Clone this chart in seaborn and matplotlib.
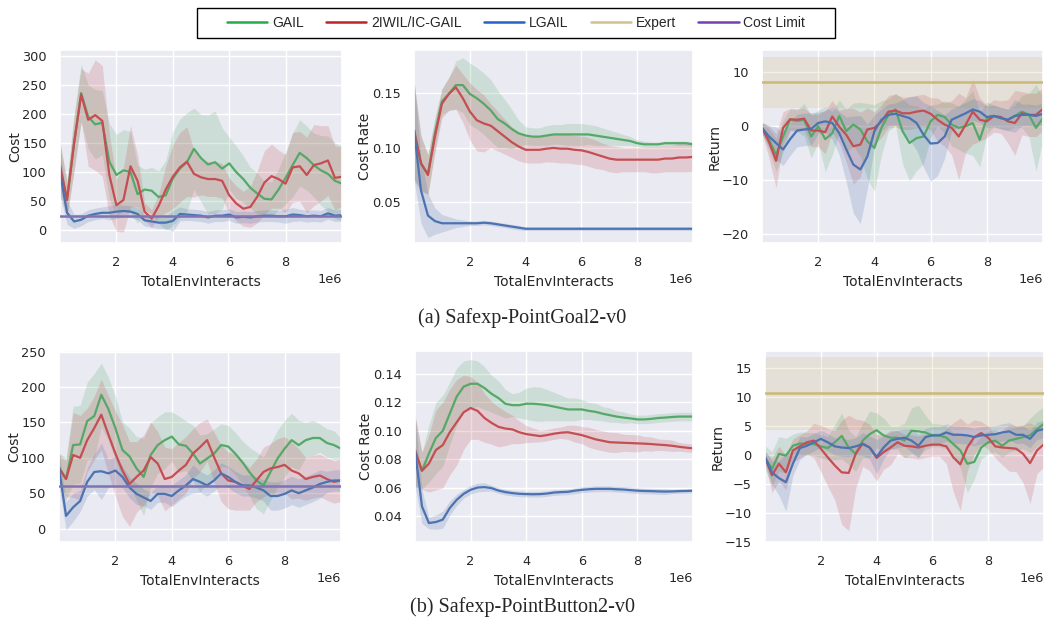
import numpy as np
import pandas as pd
import matplotlib
matplotlib.use("Agg")
import matplotlib.pyplot as plt
import seaborn as sns
from matplotlib.lines import Line2D
from matplotlib.patches import Rectangle

#%% data (x in env interacts, 0.25e6 apart)
steps = np.arange(41) * 0.25e6
algos = ["GAIL", "2IWIL/IC-GAIL", "LGAIL"]

# (a) Safexp-PointGoal2-v0 -- cost
goal_cost_gail = [105, 55, 150, 236, 195, 182, 185, 118, 95, 103, 100, 62, 70, 68, 57, 60, 89, 106, 117, 140, 124,
                  113, 117, 106, 115, 100, 88, 73, 63, 54, 53, 70, 90, 112, 133, 124, 112, 103, 97, 85, 80]
goal_cost_gail_sd = [45, 30, 50, 50, 55, 60, 55, 65, 70, 70, 70, 50, 35, 40, 45, 60, 80, 85, 85, 70, 75,
                     85, 88, 70, 45, 45, 40, 35, 35, 30, 30, 35, 45, 55, 57, 55, 55, 60, 65, 65, 65]
goal_cost_2iwil = [112, 52, 150, 233, 190, 198, 188, 95, 43, 52, 110, 85, 32, 20, 42, 70, 92, 108, 118, 97, 91,
                   88, 88, 85, 60, 46, 37, 40, 58, 82, 93, 88, 80, 108, 110, 95, 112, 115, 120, 90, 92]
goal_cost_2iwil_sd = [40, 30, 45, 45, 80, 95, 95, 70, 45, 55, 70, 45, 15, 15, 20, 40, 55, 60, 60, 40, 30,
                      30, 30, 30, 30, 30, 30, 35, 45, 55, 55, 50, 50, 60, 60, 65, 70, 65, 60, 55, 52]
goal_cost_lgail = [100, 30, 15, 18, 25, 28, 30, 30, 32, 33, 32, 28, 17, 15, 13, 13, 16, 28, 27, 26, 25,
                   22, 25, 25, 27, 22, 23, 22, 24, 25, 25, 24, 24, 27, 26, 24, 25, 24, 29, 25, 26]
goal_cost_lgail_sd = [40, 20, 12, 10, 10, 10, 10, 12, 12, 10, 10, 10, 10, 10, 10, 10, 18, 12, 10, 10, 10,
                      10, 10, 10, 10, 10, 10, 10, 10, 10, 10, 10, 12, 12, 10, 10, 10, 10, 10, 10, 10]
goal_cost_limit = 25

# (a) -- cost rate
goal_rate_gail = [0.116, 0.085, 0.076, 0.113, 0.142, 0.149, 0.157, 0.157, 0.149, 0.145, 0.140, 0.134, 0.126, 0.122,
                  0.117, 0.113, 0.111, 0.110, 0.110, 0.111, 0.112, 0.112, 0.112, 0.112, 0.112, 0.112, 0.111, 0.110,
                  0.109, 0.108, 0.107, 0.106, 0.104, 0.103, 0.103, 0.103, 0.104, 0.104, 0.104, 0.104, 0.103]
goal_rate_gail_sd = [0.045, 0.025, 0.018, 0.015, 0.012, 0.015, 0.022, 0.025, 0.028, 0.028, 0.028, 0.028, 0.026,
                     0.022, 0.018, 0.012, 0.008, 0.008, 0.008, 0.009, 0.009, 0.009, 0.010, 0.010, 0.010, 0.009,
                     0.009, 0.008, 0.007, 0.006, 0.005, 0.004, 0.003, 0.003, 0.002, 0.002, 0.002, 0.002, 0.002,
                     0.002, 0.002]
goal_rate_2iwil = [0.116, 0.086, 0.075, 0.110, 0.140, 0.149, 0.155, 0.145, 0.133, 0.125, 0.122, 0.120, 0.115,
                   0.110, 0.105, 0.101, 0.098, 0.098, 0.098, 0.099, 0.0997, 0.099, 0.099, 0.098, 0.0975, 0.096,
                   0.094, 0.092, 0.090, 0.089, 0.089, 0.089, 0.089, 0.089, 0.089, 0.089, 0.090, 0.090, 0.091,
                   0.091, 0.0915]
goal_rate_2iwil_sd = [0.045, 0.025, 0.018, 0.015, 0.013, 0.015, 0.020, 0.022, 0.026, 0.028, 0.026, 0.020, 0.018,
                      0.016, 0.014, 0.013, 0.012, 0.012, 0.012, 0.012, 0.013, 0.013, 0.013, 0.013, 0.013, 0.013,
                      0.013, 0.012, 0.012, 0.012, 0.011, 0.011, 0.011, 0.011, 0.012, 0.012, 0.012, 0.012, 0.013,
                      0.013, 0.013]
goal_rate_lgail = [0.116, 0.061, 0.038, 0.033, 0.031, 0.031, 0.031, 0.031, 0.031, 0.031, 0.0315, 0.031, 0.030,
                   0.029, 0.028, 0.027, 0.026, 0.026, 0.026, 0.026, 0.026, 0.026, 0.026, 0.026, 0.026, 0.026,
                   0.026, 0.026, 0.026, 0.026, 0.026, 0.026, 0.026, 0.026, 0.026, 0.026, 0.026, 0.026, 0.026,
                   0.026, 0.026]
goal_rate_lgail_sd = [0.045, 0.030, 0.020, 0.012, 0.008, 0.006, 0.004, 0.003, 0.002, 0.002, 0.002, 0.002, 0.002,
                      0.002, 0.002, 0.002, 0.0015, 0.0015, 0.0015, 0.0015, 0.0015, 0.0015, 0.0015, 0.0015, 0.0015,
                      0.0015, 0.0015, 0.0015, 0.0015, 0.0015, 0.0015, 0.0015, 0.0015, 0.0015, 0.0015, 0.0015,
                      0.0015, 0.0015, 0.0015, 0.0015, 0.0015]

# (a) -- return
goal_ret_gail = [-0.4, -2.6, -5.4, -2.0, 1.1, 0.9, 1.1, -2.0, -0.1, -2.5, -1.4, 1.8, -1.0, 0.2, -0.7, -2.9, -4.1,
                 -0.4, 2.0, 3.0, -1.0, -3.2, -2.3, -2.0, 0.8, 2.0, 1.6, 0.2, -0.4, -0.1, 0.5, -2.6, 1.4, 1.8, 1.4,
                 1.1, 1.8, 2.6, 2.0, -0.4, 1.4]
goal_ret_gail_sd = [1, 2, 3, 3, 2, 2, 3, 4, 3, 6, 4, 3, 4, 4, 5, 7, 8, 5, 3, 3, 6,
                    7, 6, 5, 3, 2, 3, 4, 4, 5, 6, 5, 3, 2, 2, 2, 2, 3, 4, 8, 4]
goal_ret_2iwil = [-0.4, -3.0, -6.5, -0.4, 1.2, 1.1, 1.3, -0.9, -0.9, -1.2, 1.7, -0.2, -1.7, -3.8, -3.5, -0.7, -0.4,
                  0.8, 2.6, 2.8, 2.3, 2.3, 2.6, 2.8, 2.2, 1.1, 0.2, -0.4, -2.0, 0.2, 2.6, 1.1, 0.8, 1.8, 1.6, 0.8,
                  0.5, 2.3, 2.0, 2.0, 3.1]
goal_ret_2iwil_sd = [1, 3, 5, 3, 2, 2, 2, 3, 3, 4, 3, 3, 5, 7, 6, 4, 3, 3, 3, 3, 3,
                     3, 3, 3, 3, 4, 4, 5, 8, 5, 6, 4, 3, 3, 3, 4, 6, 4, 4, 4, 4]
goal_ret_lgail = [-0.4, -2.0, -3.2, -4.4, -2.5, -0.9, -0.7, -0.6, 0.5, 0.8, 0.5, -1.4, -4.4, -7.2, -8.1, -5.7,
                  -1.0, 1.1, 2.0, 2.2, 1.8, 1.4, 0.5, -1.7, -3.3, -3.2, -2.0, 1.1, 1.7, 2.3, 3.0, 2.6, 1.6, 1.8,
                  1.4, 1.1, 1.8, 2.0, 2.0, 1.8, 2.2]
goal_ret_lgail_sd = [1, 2, 3, 3, 3, 3, 3, 3, 2, 2, 3, 4, 6, 9, 10, 6, 3, 2, 2, 2, 3,
                     4, 5, 6, 7, 6, 4, 2, 2, 2, 2, 2, 2, 2, 2, 2, 3, 2, 2, 2, 2]
goal_expert = 8.0
goal_expert_sd = 4.7

# (b) Safexp-PointButton2-v0 -- cost
button_cost_gail = [87, 70, 118, 119, 152, 159, 189, 169, 142, 111, 102, 85, 73, 104, 118, 125, 130, 119, 117, 106,
                    92, 99, 106, 118, 116, 106, 94, 80, 68, 61, 80, 99, 113, 125, 118, 125, 128, 128, 121, 118, 113]
button_cost_gail_sd = [20, 30, 55, 55, 55, 60, 45, 45, 45, 40, 40, 45, 55, 45, 40, 40, 35, 40, 35, 40, 40,
                       35, 35, 30, 30, 30, 30, 35, 40, 40, 40, 40, 40, 38, 35, 25, 25, 20, 20, 20, 15]
button_cost_2iwil = [85, 70, 104, 100, 125, 142, 161, 133, 106, 82, 63, 73, 82, 101, 92, 70, 73, 82, 90, 106,
                     115, 125, 101, 78, 68, 66, 61, 56, 68, 80, 85, 87, 90, 82, 78, 70, 73, 75, 70, 66, 68]
button_cost_2iwil_sd = [20, 25, 60, 60, 45, 45, 50, 55, 60, 65, 60, 50, 50, 50, 45, 45, 40, 40, 40, 35, 35,
                        30, 35, 40, 40, 40, 35, 30, 30, 35, 35, 40, 40, 40, 35, 30, 30, 30, 30, 30, 30]
button_cost_lgail = [85, 18, 30, 39, 66, 80, 81, 78, 82, 73, 58, 49, 44, 39, 49, 49, 46, 54, 61, 70, 66,
                     61, 68, 78, 73, 66, 61, 61, 58, 54, 46, 46, 49, 54, 50, 54, 58, 63, 66, 68, 68]
button_cost_lgail_sd = [25, 20, 20, 15, 20, 25, 40, 20, 20, 15, 15, 15, 12, 12, 12, 12, 15, 15, 15, 20, 15,
                        15, 15, 15, 15, 15, 15, 15, 15, 15, 20, 20, 20, 20, 20, 20, 20, 20, 15, 15, 15]
button_cost_limit = 60

# (b) -- cost rate
button_rate_gail = [0.085, 0.072, 0.084, 0.095, 0.100, 0.112, 0.124, 0.131, 0.133, 0.133, 0.130, 0.126, 0.123,
                    0.119, 0.118, 0.118, 0.119, 0.119, 0.1186, 0.118, 0.117, 0.116, 0.115, 0.115, 0.115, 0.114,
                    0.1133, 0.112, 0.111, 0.110, 0.1093, 0.1087, 0.108, 0.108, 0.1084, 0.109, 0.1093, 0.1097,
                    0.110, 0.110, 0.110]
button_rate_gail_sd = [0.025, 0.013, 0.020, 0.025, 0.025, 0.022, 0.020, 0.018, 0.017, 0.016, 0.015, 0.013, 0.012,
                       0.010, 0.008, 0.009, 0.011, 0.012, 0.012, 0.011, 0.010, 0.009, 0.008, 0.008, 0.007, 0.006,
                       0.006, 0.005, 0.005, 0.004, 0.004, 0.003, 0.003, 0.003, 0.003, 0.003, 0.003, 0.003, 0.003,
                       0.003, 0.003]
button_rate_2iwil = [0.0865, 0.072, 0.077, 0.0865, 0.090, 0.099, 0.106, 0.113, 0.116, 0.114, 0.109, 0.1056, 0.1028,
                     0.1016, 0.101, 0.099, 0.0977, 0.097, 0.0963, 0.097, 0.098, 0.0987, 0.099, 0.098, 0.097, 0.0955,
                     0.094, 0.093, 0.092, 0.0918, 0.0916, 0.0914, 0.0912, 0.091, 0.0907, 0.0903, 0.090, 0.0895,
                     0.0888, 0.0882, 0.0877]
button_rate_2iwil_sd = [0.025, 0.013, 0.020, 0.028, 0.030, 0.030, 0.030, 0.026, 0.022, 0.020, 0.017, 0.015, 0.014,
                        0.012, 0.010, 0.008, 0.006, 0.005, 0.004, 0.004, 0.004, 0.004, 0.005, 0.006, 0.006, 0.007,
                        0.007, 0.007, 0.007, 0.007, 0.006, 0.006, 0.006, 0.005, 0.005, 0.004, 0.004, 0.004, 0.003,
                        0.003, 0.003]
button_rate_lgail = [0.0865, 0.047, 0.0353, 0.036, 0.0377, 0.0458, 0.0516, 0.0558, 0.0586, 0.0602, 0.0605, 0.0598,
                     0.0581, 0.057, 0.0563, 0.0558, 0.0556, 0.0555, 0.0556, 0.056, 0.0567, 0.057, 0.0572, 0.058,
                     0.0586, 0.059, 0.0593, 0.0593, 0.0593, 0.059, 0.0588, 0.0584, 0.058, 0.0578, 0.0577, 0.0575,
                     0.0574, 0.0575, 0.0577, 0.0578, 0.058]
button_rate_lgail_sd = [0.025, 0.012, 0.004, 0.005, 0.006, 0.005, 0.004, 0.003, 0.003, 0.003, 0.003, 0.002, 0.002,
                        0.002, 0.002, 0.002, 0.002, 0.002, 0.002, 0.002, 0.002, 0.002, 0.002, 0.002, 0.002, 0.002,
                        0.002, 0.002, 0.002, 0.002, 0.002, 0.002, 0.002, 0.002, 0.002, 0.002, 0.002, 0.0015, 0.0015,
                        0.0015, 0.0015]

# (b) -- return
button_ret_gail = [-0.4, -2.4, 0.2, -0.1, 1.6, 2.0, 1.9, 1.9, 1.5, 1.2, 2.2, 3.3, 1.3, 0.2, 2.5, 3.6, 4.3, 3.4, 3.0,
                   3.0, 2.5, 4.2, 4.1, 3.9, 3.4, 3.4, 3.0, 1.9, 0.8, -1.5, -1.2, 1.3, 2.2, 2.5, 1.6, 2.5, 2.8, 3.1,
                   3.4, 4.5, 5.4]
button_ret_gail_sd = [2, 3, 3, 3, 2, 2, 2, 2, 2, 2, 3, 4, 3, 3, 3, 4, 3, 3, 2, 2, 3,
                      4, 4.5, 3, 2, 2, 2, 2, 3, 5, 3, 2, 2, 2, 2, 2, 2, 2, 3, 3, 3]
button_ret_2iwil = [-0.4, -3.5, -1.5, -3.0, 0.8, 1.5, 2.2, 2.5, 1.1, -0.4, -1.8, -3.0, -3.1, 0.2, 2.0, 1.3, -0.5,
                    0.5, 1.3, 2.2, 1.6, 1.5, 1.3, 1.6, 1.8, 1.8, 1.5, -0.4, -1.6, 1.3, 3.1, 3.8, 3.0, 1.5, 1.3, 1.2,
                    1.1, 0.2, -1.4, 0.8, 1.9]
button_ret_2iwil_sd = [1, 3, 3, 3, 2, 2, 2, 3, 4, 5, 6, 9, 10, 6, 4, 4, 4, 3, 3, 2, 2,
                       2, 2, 2, 2, 2, 3, 6, 8, 4, 3, 2, 2, 2, 3, 4, 4, 5, 7, 4, 4]
button_ret_lgail = [-0.4, -3.0, -4.0, -4.7, -1.5, 1.2, 1.6, 2.2, 2.8, 2.2, 1.5, 1.3, 1.2, 1.5, 1.9, 1.3, -0.3, 1.3,
                    2.5, 2.8, 3.0, 2.5, 1.6, 3.1, 3.4, 3.4, 3.9, 3.5, 3.5, 3.4, 3.1, 3.4, 3.5, 3.6, 3.9, 4.1, 3.5,
                    3.5, 2.8, 4.2, 4.5]
button_ret_lgail_sd = [1, 2, 3, 5, 2, 2, 1.5, 1.5, 1.5, 1.5, 1.5, 1.5, 1.5, 1.5, 2, 2, 3, 2, 1.5, 1.5, 1.5,
                       2, 2, 1.5, 1.5, 1.5, 1.5, 1.5, 1.5, 1.5, 1.5, 1.5, 1.5, 1.5, 1.5, 1.5, 1.5, 1.5, 1.5, 1.5, 1.5]
button_expert = 10.7
button_expert_sd = 6.3

#%% style
sns.set_theme(style="darkgrid")
deep = ["#55A868", "#C44E52", "#4C72B0"]   # GAIL, 2IWIL, LGAIL
expert_color = "#CCB974"
limit_color = "#8172B2"


def draw_panel(ax, means, sds, ylabel, ylim, yticks, limit=None, expert=None):
    df = pd.DataFrame({
        "step": np.tile(steps, 3),
        "value": np.concatenate([np.asarray(m, float) for m in means]),
        "algo": np.repeat(algos, len(steps)),
    })
    if expert is not None:
        ax.axhspan(expert[0] - expert[1], expert[0] + expert[1], color=expert_color, alpha=0.2, lw=0, zorder=1)
    for m, s, c in zip(means, sds, deep):
        m = np.asarray(m, float)
        s = np.asarray(s, float)
        ax.fill_between(steps, m - s, m + s, color=c, alpha=0.2, lw=0, zorder=1.5)
    sns.lineplot(data=df, x="step", y="value", hue="algo", hue_order=algos, palette=deep,
                 ax=ax, legend=False, linewidth=1.6, zorder=2)
    if limit is not None:
        ax.axhline(limit, color=limit_color, lw=1.8, zorder=3)
    if expert is not None:
        ax.axhline(expert[0], color=expert_color, lw=1.8, zorder=3)
    ax.set_xlim(0, 1e7)
    ax.set_xticks([2e6, 4e6, 6e6, 8e6])
    ax.set_ylim(*ylim)
    ax.set_yticks(yticks)
    ax.set_xlabel("TotalEnvInteracts", fontsize=10)
    ax.set_ylabel(ylabel, fontsize=10, labelpad=0)
    ax.tick_params(labelsize=9.3)
    ax.xaxis.get_offset_text().set_fontsize(9.3)


W, H = 1044, 619
fig = plt.figure(figsize=(W / 100, H / 100), dpi=100)


def box(left, top, right, bottom):
    return [left / W, 1 - bottom / H, (right - left) / W, (bottom - top) / H]


ax1 = fig.add_axes(box(60, 50, 342, 243))
ax2 = fig.add_axes(box(414, 50, 693, 243))
ax3 = fig.add_axes(box(762, 50, 1043, 243))
ax4 = fig.add_axes(box(59, 351, 341, 542))
ax5 = fig.add_axes(box(415, 351, 693, 542))
ax6 = fig.add_axes(box(765, 351, 1044, 542))

draw_panel(ax1, [goal_cost_gail, goal_cost_2iwil, goal_cost_lgail],
           [goal_cost_gail_sd, goal_cost_2iwil_sd, goal_cost_lgail_sd],
           "Cost", (-22, 310), [0, 50, 100, 150, 200, 250, 300], limit=goal_cost_limit)
draw_panel(ax2, [goal_rate_gail, goal_rate_2iwil, goal_rate_lgail],
           [goal_rate_gail_sd, goal_rate_2iwil_sd, goal_rate_lgail_sd],
           "Cost Rate", (0.013, 0.189), [0.05, 0.10, 0.15])
draw_panel(ax3, [goal_ret_gail, goal_ret_2iwil, goal_ret_lgail],
           [goal_ret_gail_sd, goal_ret_2iwil_sd, goal_ret_lgail_sd],
           "Return", (-21.7, 14), [-20, -10, 0, 10], expert=(goal_expert, goal_expert_sd))
draw_panel(ax4, [button_cost_gail, button_cost_2iwil, button_cost_lgail],
           [button_cost_gail_sd, button_cost_2iwil_sd, button_cost_lgail_sd],
           "Cost", (-19, 251), [0, 50, 100, 150, 200, 250], limit=button_cost_limit)
draw_panel(ax5, [button_rate_gail, button_rate_2iwil, button_rate_lgail],
           [button_rate_gail_sd, button_rate_2iwil_sd, button_rate_lgail_sd],
           "Cost Rate", (0.022, 0.156), [0.04, 0.06, 0.08, 0.10, 0.12, 0.14])
draw_panel(ax6, [button_ret_gail, button_ret_2iwil, button_ret_lgail],
           [button_ret_gail_sd, button_ret_2iwil_sd, button_ret_lgail_sd],
           "Return", (-15.05, 18), [-15, -10, -5, 0, 5, 10, 15], expert=(button_expert, button_expert_sd))

# captions
fig.text(0.5, 1 - 318 / H, "(a) Safexp-PointGoal2-v0", ha="center", va="center",
         family="Liberation Serif", fontsize=14.5)
fig.text(0.5, 1 - 607 / H, "(b) Safexp-PointButton2-v0", ha="center", va="center",
         family="Liberation Serif", fontsize=14.5)

# shared legend in a plain box on top
fig.patches.append(Rectangle((197 / W, 1 - 38 / H), 638 / W, 30 / H, transform=fig.transFigure,
                             fill=False, edgecolor="black", lw=1.0))
legend_colors = ["#22AA4E", "#C0232B", "#2463C6", "#D2C08C", "#7440AE"]
legend_labels = ["GAIL", "2IWIL/IC-GAIL", "LGAIL", "Expert", "Cost Limit"]
handles = [Line2D([], [], color=c, lw=1.8) for c in legend_colors]
fig.legend(handles, legend_labels, loc="center", bbox_to_anchor=(516 / W, 1 - 23 / H), ncol=5,
           frameon=False, prop={"family": "Liberation Sans", "size": 10}, handlelength=2.9,
           handletextpad=0.35, columnspacing=1.6)

fig.savefig("out.png", dpi=100)
